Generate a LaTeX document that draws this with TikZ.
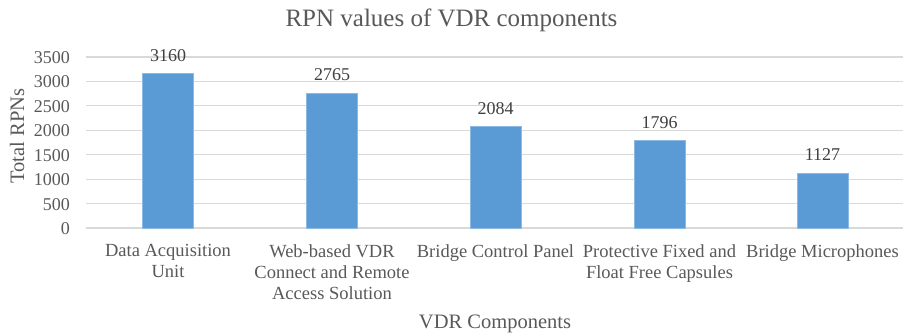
\documentclass[tikz,border=0pt]{standalone}
\usepackage{fontspec}
\setmainfont{Liberation Serif}
\definecolor{barblue}{HTML}{5B9BD5}
\definecolor{gridgray}{HTML}{D9D9D9}
\definecolor{txtgray}{HTML}{595959}
\definecolor{valgray}{HTML}{404040}
\begin{document}
\begin{tikzpicture}[x=1pt,y=-1pt,
  grid/.style={draw=gridgray,line width=1.1pt},
  bar/.style={fill=barblue,draw=barblue!70!white,line width=0.5pt},
  tick/.style={anchor=base east,inner sep=0pt,text=txtgray,font=\fontsize{18}{21}\selectfont},
  val/.style={anchor=base,inner sep=0pt,text=valgray,font=\fontsize{18}{21}\selectfont},
  cat/.style={anchor=north,inner sep=0pt,align=center,text=txtgray,font=\fontsize{18.5}{21}\selectfont},
  axlabel/.style={inner sep=0pt,text=txtgray,font=\fontsize{20.5}{24}\selectfont},
  ttl/.style={anchor=base,inner sep=0pt,text=txtgray,font=\fontsize{25}{29}\selectfont}]
\useasboundingbox (0,0) rectangle (903,335);
\fill[white] (0,0) rectangle (903,335);
% gridlines and tick labels
\foreach \v/\nm in {0/a,500/b,1000/c,1500/d,2000/e,2500/f,3000/g,3500/h}{
  \pgfmathsetmacro{\yy}{228-\v/3500*171}
  \draw[grid] (86,\yy) -- (903,\yy);
  \node[tick] (tick\nm) at (70,\yy+6.5) {\v};
}
% bars
\foreach \cx/\v/\nm in {168/3160/a,332/2765/b,495.5/2084/c,659.5/1796/d,822.5/1127/e}{
  \pgfmathsetmacro{\yy}{228-\v/3500*171}
  \fill[bar] (\cx-25.5,228) rectangle (\cx+25.5,\yy);
  \node[val] (val\nm) at (\cx,\yy-12) {\v};
}
% category labels
\node[cat] (cata) at (168,244) {Data Acquisition\\Unit};
\node[cat] (catb) at (332,244) {Web-based VDR\\Connect and Remote\\Access Solution};
\node[cat] (catc) at (495.5,244) {Bridge Control Panel};
\node[cat] (catd) at (659.5,244) {Protective Fixed and\\Float Free Capsules};
\node[cat] (cate) at (822.5,244) {Bridge Microphones};
% axis titles
\node[axlabel,anchor=base] (xlab) at (495,328) {VDR Components};
\node[axlabel,rotate=90,anchor=base] (ylab) at (24,136) {Total RPNs};
\node[ttl] (title) at (451.5,26) {RPN values of VDR components};
\end{tikzpicture}
\end{document}
